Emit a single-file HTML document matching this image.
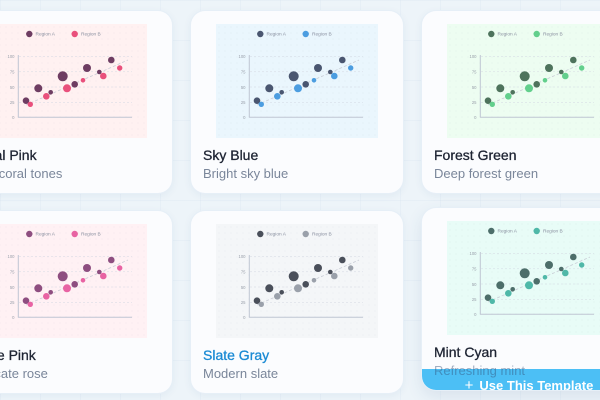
<!DOCTYPE html>
<html><head><meta charset="utf-8">
<style>
html,body{margin:0;padding:0;}
body{width:600px;height:400px;overflow:hidden;position:relative;font-family:"Liberation Sans",sans-serif;
background-color:#edf4f9;
background-image:linear-gradient(rgba(190,210,228,0.13) 1px,transparent 1px),linear-gradient(90deg,rgba(190,210,228,0.13) 1px,transparent 1px);
background-size:40px 40px;}
.card{position:absolute;width:214px;height:184px;border-radius:15px;background:#fbfcfe;box-shadow:0 2px 8px rgba(40,80,130,0.06);border:1px solid rgba(225,235,245,0.8);box-sizing:border-box;overflow:hidden;}
.chart{position:absolute;left:25px;top:13px;width:162px;height:114px;background-color:var(--bg);
background-image:radial-gradient(rgba(120,130,150,0.06) 0.6px,transparent 0.9px);background-size:6px 6px;}
.chart svg{display:block;width:162px;height:114px;}
.a{fill:var(--a);}
.b{fill:var(--b);}
.t{position:absolute;left:12px;top:136px;font-size:14px;line-height:16px;color:#1e2433;white-space:nowrap;-webkit-text-stroke:0.3px #1e2433;}
.s{position:absolute;left:12px;top:154.5px;font-size:13px;line-height:16px;color:#7a869a;white-space:nowrap;}
.lg{font-size:4.8px;fill:#8a90a0;font-family:"Liberation Sans",sans-serif;}
.tk{font-size:4.2px;fill:#9aa0ab;font-family:"Liberation Sans",sans-serif;text-anchor:end;}
.btn{position:absolute;left:0;top:161px;width:214px;height:40px;background:#4cbff5;color:#fff;font-weight:bold;font-size:13px;text-align:center;line-height:16px;padding-top:9px;box-sizing:border-box;white-space:nowrap;}
</style></head><body>

<!-- Row 1 -->
<div class="card" style="left:-41px;top:10px;--bg:#fff1f1;--a:#6e3d62;--b:#e9507c;">
<div class="chart"><svg viewBox="0 0 162 114">
<circle class="a" cx="44.3" cy="10" r="3.2"/><text class="lg" x="50.5" y="11.7">Region A</text>
<circle class="b" cx="89.7" cy="10" r="3.2"/><text class="lg" x="96" y="11.7">Region B</text>
<g stroke="#d3d8e2" stroke-width="0.5" stroke-dasharray="2 2"><line x1="34" y1="32.5" x2="147" y2="32.5"/><line x1="34" y1="47.8" x2="147" y2="47.8"/><line x1="34" y1="63" x2="147" y2="63"/><line x1="34" y1="78.3" x2="147" y2="78.3"/></g>
<text class="tk" x="29.5" y="34.2">100</text><text class="tk" x="29.5" y="49.5">75</text><text class="tk" x="29.5" y="64.8">50</text><text class="tk" x="29.5" y="80">25</text><text class="tk" x="29.5" y="95">0</text>
<line x1="33.3" y1="31" x2="33.3" y2="93.3" stroke="#bfc6d3" stroke-width="1"/><line x1="33" y1="93.3" x2="147" y2="93.3" stroke="#bfc6d3" stroke-width="1"/>
<line x1="41" y1="81" x2="143" y2="36" stroke="#c9cdd6" stroke-width="0.8" stroke-dasharray="3 2"/>
<circle class="a" cx="41" cy="76.7" r="3.3"/><circle class="a" cx="53.3" cy="64.3" r="4"/><circle class="a" cx="65.7" cy="68.3" r="2.3"/><circle class="a" cx="77.7" cy="52.3" r="5"/><circle class="a" cx="89.7" cy="60.3" r="3.3"/><circle class="a" cx="102" cy="44" r="4"/><circle class="a" cx="114.3" cy="48" r="2.3"/><circle class="a" cx="126.3" cy="36" r="3.3"/>
<circle class="b" cx="45.3" cy="80.3" r="2.7"/><circle class="b" cx="61.3" cy="72.3" r="3.3"/><circle class="b" cx="82" cy="64.3" r="4"/><circle class="b" cx="98" cy="56.3" r="2.3"/><circle class="b" cx="118.3" cy="52" r="3.3"/><circle class="b" cx="134.7" cy="44" r="2.7"/>
</svg></div>
<div class="t">Coral Pink</div><div class="s">Soft coral tones</div>
</div>

<div class="card" style="left:190px;top:10px;--bg:#eaf6fd;--a:#4a5670;--b:#4c9de0;">
<div class="chart"><svg viewBox="0 0 162 114">
<circle class="a" cx="44.3" cy="10" r="3.2"/><text class="lg" x="50.5" y="11.7">Region A</text>
<circle class="b" cx="89.7" cy="10" r="3.2"/><text class="lg" x="96" y="11.7">Region B</text>
<g stroke="#d3d8e2" stroke-width="0.5" stroke-dasharray="2 2"><line x1="34" y1="32.5" x2="147" y2="32.5"/><line x1="34" y1="47.8" x2="147" y2="47.8"/><line x1="34" y1="63" x2="147" y2="63"/><line x1="34" y1="78.3" x2="147" y2="78.3"/></g>
<text class="tk" x="29.5" y="34.2">100</text><text class="tk" x="29.5" y="49.5">75</text><text class="tk" x="29.5" y="64.8">50</text><text class="tk" x="29.5" y="80">25</text><text class="tk" x="29.5" y="95">0</text>
<line x1="33.3" y1="31" x2="33.3" y2="93.3" stroke="#bfc6d3" stroke-width="1"/><line x1="33" y1="93.3" x2="147" y2="93.3" stroke="#bfc6d3" stroke-width="1"/>
<line x1="41" y1="81" x2="143" y2="36" stroke="#c9cdd6" stroke-width="0.8" stroke-dasharray="3 2"/>
<circle class="a" cx="41" cy="76.7" r="3.3"/><circle class="a" cx="53.3" cy="64.3" r="4"/><circle class="a" cx="65.7" cy="68.3" r="2.3"/><circle class="a" cx="77.7" cy="52.3" r="5"/><circle class="a" cx="89.7" cy="60.3" r="3.3"/><circle class="a" cx="102" cy="44" r="4"/><circle class="a" cx="114.3" cy="48" r="2.3"/><circle class="a" cx="126.3" cy="36" r="3.3"/>
<circle class="b" cx="45.3" cy="80.3" r="2.7"/><circle class="b" cx="61.3" cy="72.3" r="3.3"/><circle class="b" cx="82" cy="64.3" r="4"/><circle class="b" cx="98" cy="56.3" r="2.3"/><circle class="b" cx="118.3" cy="52" r="3.3"/><circle class="b" cx="134.7" cy="44" r="2.7"/>
</svg></div>
<div class="t">Sky Blue</div><div class="s">Bright sky blue</div>
</div>

<div class="card" style="left:421px;top:10px;--bg:#edfdf1;--a:#4e735c;--b:#62cf8c;">
<div class="chart"><svg viewBox="0 0 162 114">
<circle class="a" cx="44.3" cy="10" r="3.2"/><text class="lg" x="50.5" y="11.7">Region A</text>
<circle class="b" cx="89.7" cy="10" r="3.2"/><text class="lg" x="96" y="11.7">Region B</text>
<g stroke="#d3d8e2" stroke-width="0.5" stroke-dasharray="2 2"><line x1="34" y1="32.5" x2="147" y2="32.5"/><line x1="34" y1="47.8" x2="147" y2="47.8"/><line x1="34" y1="63" x2="147" y2="63"/><line x1="34" y1="78.3" x2="147" y2="78.3"/></g>
<text class="tk" x="29.5" y="34.2">100</text><text class="tk" x="29.5" y="49.5">75</text><text class="tk" x="29.5" y="64.8">50</text><text class="tk" x="29.5" y="80">25</text><text class="tk" x="29.5" y="95">0</text>
<line x1="33.3" y1="31" x2="33.3" y2="93.3" stroke="#bfc6d3" stroke-width="1"/><line x1="33" y1="93.3" x2="147" y2="93.3" stroke="#bfc6d3" stroke-width="1"/>
<line x1="41" y1="81" x2="143" y2="36" stroke="#c9cdd6" stroke-width="0.8" stroke-dasharray="3 2"/>
<circle class="a" cx="41" cy="76.7" r="3.3"/><circle class="a" cx="53.3" cy="64.3" r="4"/><circle class="a" cx="65.7" cy="68.3" r="2.3"/><circle class="a" cx="77.7" cy="52.3" r="5"/><circle class="a" cx="89.7" cy="60.3" r="3.3"/><circle class="a" cx="102" cy="44" r="4"/><circle class="a" cx="114.3" cy="48" r="2.3"/><circle class="a" cx="126.3" cy="36" r="3.3"/>
<circle class="b" cx="45.3" cy="80.3" r="2.7"/><circle class="b" cx="61.3" cy="72.3" r="3.3"/><circle class="b" cx="82" cy="64.3" r="4"/><circle class="b" cx="98" cy="56.3" r="2.3"/><circle class="b" cx="118.3" cy="52" r="3.3"/><circle class="b" cx="134.7" cy="44" r="2.7"/>
</svg></div>
<div class="t">Forest Green</div><div class="s">Deep forest green</div>
</div>

<!-- Row 2 -->
<div class="card" style="left:-41px;top:210px;--bg:#fff1f4;--a:#8e4e80;--b:#e863a3;">
<div class="chart"><svg viewBox="0 0 162 114">
<circle class="a" cx="44.3" cy="10" r="3.2"/><text class="lg" x="50.5" y="11.7">Region A</text>
<circle class="b" cx="89.7" cy="10" r="3.2"/><text class="lg" x="96" y="11.7">Region B</text>
<g stroke="#d3d8e2" stroke-width="0.5" stroke-dasharray="2 2"><line x1="34" y1="32.5" x2="147" y2="32.5"/><line x1="34" y1="47.8" x2="147" y2="47.8"/><line x1="34" y1="63" x2="147" y2="63"/><line x1="34" y1="78.3" x2="147" y2="78.3"/></g>
<text class="tk" x="29.5" y="34.2">100</text><text class="tk" x="29.5" y="49.5">75</text><text class="tk" x="29.5" y="64.8">50</text><text class="tk" x="29.5" y="80">25</text><text class="tk" x="29.5" y="95">0</text>
<line x1="33.3" y1="31" x2="33.3" y2="93.3" stroke="#bfc6d3" stroke-width="1"/><line x1="33" y1="93.3" x2="147" y2="93.3" stroke="#bfc6d3" stroke-width="1"/>
<line x1="41" y1="81" x2="143" y2="36" stroke="#c9cdd6" stroke-width="0.8" stroke-dasharray="3 2"/>
<circle class="a" cx="41" cy="76.7" r="3.3"/><circle class="a" cx="53.3" cy="64.3" r="4"/><circle class="a" cx="65.7" cy="68.3" r="2.3"/><circle class="a" cx="77.7" cy="52.3" r="5"/><circle class="a" cx="89.7" cy="60.3" r="3.3"/><circle class="a" cx="102" cy="44" r="4"/><circle class="a" cx="114.3" cy="48" r="2.3"/><circle class="a" cx="126.3" cy="36" r="3.3"/>
<circle class="b" cx="45.3" cy="80.3" r="2.7"/><circle class="b" cx="61.3" cy="72.3" r="3.3"/><circle class="b" cx="82" cy="64.3" r="4"/><circle class="b" cx="98" cy="56.3" r="2.3"/><circle class="b" cx="118.3" cy="52" r="3.3"/><circle class="b" cx="134.7" cy="44" r="2.7"/>
</svg></div>
<div class="t">Rose Pink</div><div class="s">Delicate rose</div>
</div>

<div class="card" style="left:190px;top:210px;--bg:#f4f6f8;--a:#4a4f5a;--b:#9aa0aa;">
<div class="chart"><svg viewBox="0 0 162 114">
<circle class="a" cx="44.3" cy="10" r="3.2"/><text class="lg" x="50.5" y="11.7">Region A</text>
<circle class="b" cx="89.7" cy="10" r="3.2"/><text class="lg" x="96" y="11.7">Region B</text>
<g stroke="#d3d8e2" stroke-width="0.5" stroke-dasharray="2 2"><line x1="34" y1="32.5" x2="147" y2="32.5"/><line x1="34" y1="47.8" x2="147" y2="47.8"/><line x1="34" y1="63" x2="147" y2="63"/><line x1="34" y1="78.3" x2="147" y2="78.3"/></g>
<text class="tk" x="29.5" y="34.2">100</text><text class="tk" x="29.5" y="49.5">75</text><text class="tk" x="29.5" y="64.8">50</text><text class="tk" x="29.5" y="80">25</text><text class="tk" x="29.5" y="95">0</text>
<line x1="33.3" y1="31" x2="33.3" y2="93.3" stroke="#bfc6d3" stroke-width="1"/><line x1="33" y1="93.3" x2="147" y2="93.3" stroke="#bfc6d3" stroke-width="1"/>
<line x1="41" y1="81" x2="143" y2="36" stroke="#c9cdd6" stroke-width="0.8" stroke-dasharray="3 2"/>
<circle class="a" cx="41" cy="76.7" r="3.3"/><circle class="a" cx="53.3" cy="64.3" r="4"/><circle class="a" cx="65.7" cy="68.3" r="2.3"/><circle class="a" cx="77.7" cy="52.3" r="5"/><circle class="a" cx="89.7" cy="60.3" r="3.3"/><circle class="a" cx="102" cy="44" r="4"/><circle class="a" cx="114.3" cy="48" r="2.3"/><circle class="a" cx="126.3" cy="36" r="3.3"/>
<circle class="b" cx="45.3" cy="80.3" r="2.7"/><circle class="b" cx="61.3" cy="72.3" r="3.3"/><circle class="b" cx="82" cy="64.3" r="4"/><circle class="b" cx="98" cy="56.3" r="2.3"/><circle class="b" cx="118.3" cy="52" r="3.3"/><circle class="b" cx="134.7" cy="44" r="2.7"/>
</svg></div>
<div class="t" style="color:#1a8ad4;-webkit-text-stroke:0.3px #1a8ad4;">Slate Gray</div><div class="s">Modern slate</div>
</div>

<div class="card" style="left:421px;top:207px;--bg:#e8fcf7;--a:#4d6e6a;--b:#4fb8a8;box-shadow:0 6px 16px rgba(40,80,130,0.10);">
<div class="chart"><svg viewBox="0 0 162 114">
<circle class="a" cx="44.3" cy="10" r="3.2"/><text class="lg" x="50.5" y="11.7">Region A</text>
<circle class="b" cx="89.7" cy="10" r="3.2"/><text class="lg" x="96" y="11.7">Region B</text>
<g stroke="#d3d8e2" stroke-width="0.5" stroke-dasharray="2 2"><line x1="34" y1="32.5" x2="147" y2="32.5"/><line x1="34" y1="47.8" x2="147" y2="47.8"/><line x1="34" y1="63" x2="147" y2="63"/><line x1="34" y1="78.3" x2="147" y2="78.3"/></g>
<text class="tk" x="29.5" y="34.2">100</text><text class="tk" x="29.5" y="49.5">75</text><text class="tk" x="29.5" y="64.8">50</text><text class="tk" x="29.5" y="80">25</text><text class="tk" x="29.5" y="95">0</text>
<line x1="33.3" y1="31" x2="33.3" y2="93.3" stroke="#bfc6d3" stroke-width="1"/><line x1="33" y1="93.3" x2="147" y2="93.3" stroke="#bfc6d3" stroke-width="1"/>
<line x1="41" y1="81" x2="143" y2="36" stroke="#c9cdd6" stroke-width="0.8" stroke-dasharray="3 2"/>
<circle class="a" cx="41" cy="76.7" r="3.3"/><circle class="a" cx="53.3" cy="64.3" r="4"/><circle class="a" cx="65.7" cy="68.3" r="2.3"/><circle class="a" cx="77.7" cy="52.3" r="5"/><circle class="a" cx="89.7" cy="60.3" r="3.3"/><circle class="a" cx="102" cy="44" r="4"/><circle class="a" cx="114.3" cy="48" r="2.3"/><circle class="a" cx="126.3" cy="36" r="3.3"/>
<circle class="b" cx="45.3" cy="80.3" r="2.7"/><circle class="b" cx="61.3" cy="72.3" r="3.3"/><circle class="b" cx="82" cy="64.3" r="4"/><circle class="b" cx="98" cy="56.3" r="2.3"/><circle class="b" cx="118.3" cy="52" r="3.3"/><circle class="b" cx="134.7" cy="44" r="2.7"/>
</svg></div>
<div class="t">Mint Cyan</div>
<div class="btn"><span style="font-weight:normal;font-size:15px;margin-right:6px;">+</span>Use This Template</div>
<div class="s" style="color:rgba(50,80,120,0.45);">Refreshing mint</div>
</div>

</body></html>
